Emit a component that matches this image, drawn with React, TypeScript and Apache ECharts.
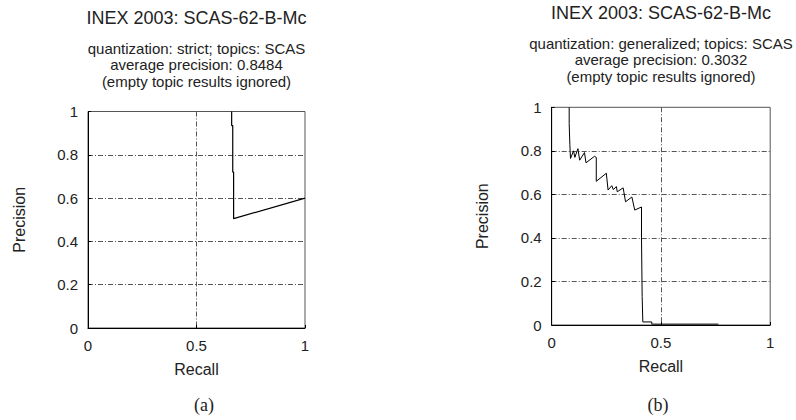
import React, { useEffect, useRef } from "react";
import * as echarts from "echarts";

// Panel (a): strict quantization
const strictRecall = [0.662, 0.662, 0.667, 0.667, 0.671, 0.671, 1.0];
const strictPrecision = [1.0, 0.935, 0.935, 0.72, 0.72, 0.505, 0.6];

// Panel (b): generalized quantization
const generalizedRecall = [
  0.080, 0.080, 0.083, 0.083, 0.086, 0.086,
  0.100, 0.106, 0.120, 0.128, 0.150, 0.157, 0.196, 0.204,
  0.204, 0.250, 0.258, 0.275, 0.282, 0.296, 0.300, 0.327, 0.338, 0.367, 0.380, 0.411,
  0.411, 0.414, 0.414, 0.417, 0.417, 0.458, 0.458, 0.763,
];
const generalizedPrecision = [
  1.0, 0.925, 0.925, 0.83, 0.83, 0.765,
  0.800, 0.770, 0.810, 0.757, 0.792, 0.745, 0.775, 0.770,
  0.660, 0.697, 0.620, 0.640, 0.622, 0.636, 0.612, 0.630, 0.566, 0.588, 0.528, 0.542,
  0.400, 0.400, 0.130, 0.130, 0.014, 0.014, 0.004, 0.004,
];

const plotTitle = "INEX 2003: SCAS-62-B-Mc";
const strictSubtitle = [
  "quantization: strict; topics: SCAS",
  "average precision: 0.8484",
  "(empty topic results ignored)",
];
const generalizedSubtitle = [
  "quantization: generalized; topics: SCAS",
  "average precision: 0.3032",
  "(empty topic results ignored)",
];
const captions = ["(a)", "(b)"];
const xName = "Recall";
const yName = "Precision";

const FONT = "Liberation Sans, Arial, Helvetica, sans-serif";
const TEXT = "#222";

const zip = (xs: number[], ys: number[]) => xs.map((x, i) => [x, ys[i]]);

const grids = [
  { left: 88, top: 111.5, width: 217, height: 216.5 },
  { left: 551.7, top: 107.3, width: 218.5, height: 217.7 },
];

const gridLine = { color: "#555", width: 1, type: [5, 2, 1, 2] as number[] };

function xAxis(i: number) {
  return {
    type: "value",
    gridIndex: i,
    min: 0,
    max: 1,
    interval: 0.5,
    name: xName,
    nameLocation: "middle",
    nameGap: 33,
    nameTextStyle: { fontFamily: FONT, fontSize: 16, color: TEXT },
    axisLine: { show: true, lineStyle: { color: "#000", width: 1 } },
    axisTick: { show: true, inside: true, length: 3, lineStyle: { color: "#000" } },
    axisLabel: { fontFamily: FONT, fontSize: 15, color: TEXT, margin: 10 },
    splitLine: { show: true, showMinLine: false, showMaxLine: false, lineStyle: gridLine },
  };
}

function yAxis(i: number) {
  return {
    type: "value",
    gridIndex: i,
    min: 0,
    max: 1,
    interval: 0.2,
    name: yName,
    nameLocation: "middle",
    nameGap: 61,
    nameTextStyle: { fontFamily: FONT, fontSize: 16, color: TEXT },
    axisLine: { show: true, lineStyle: { color: "#000", width: 1 } },
    axisTick: { show: true, inside: true, length: 3, lineStyle: { color: "#000" } },
    axisLabel: { fontFamily: FONT, fontSize: 15, color: TEXT, margin: 10 },
    splitLine: { show: true, showMinLine: false, showMaxLine: false, lineStyle: gridLine },
  };
}

function centeredText(text: string, x: number, y: number, fontSize: number, family = FONT) {
  return {
    type: "text",
    x,
    y,
    style: {
      text,
      align: "center",
      verticalAlign: "middle",
      fontFamily: family,
      fontSize,
      fill: TEXT,
    },
  };
}

export default function App() {
  const ref = useRef<HTMLDivElement>(null);

  useEffect(() => {
    if (!ref.current) return;
    const chart = echarts.init(ref.current, null, { renderer: "svg" });

    const centers = [196.5, 661];
    const titleY = [18, 13];
    const subY = [48, 43];
    const subs = [strictSubtitle, generalizedSubtitle];
    const graphics: any[] = [];
    centers.forEach((cx, i) => {
      graphics.push(centeredText(plotTitle, cx, titleY[i], 18));
      subs[i].forEach((line, j) => {
        graphics.push(centeredText(line, cx, subY[i] + j * 16.5, 15));
      });
    });
    graphics.push(centeredText(captions[0], 204, 405, 18, "Liberation Serif, Times New Roman, serif"));
    graphics.push(centeredText(captions[1], 658, 405, 18, "Liberation Serif, Times New Roman, serif"));

    chart.setOption({
      animation: false,
      backgroundColor: "#fff",
      grid: grids.map((g) => ({
        ...g,
        show: true,
        borderColor: "#555",
        borderWidth: 1,
        containLabel: false,
      })),
      xAxis: [xAxis(0), xAxis(1)],
      yAxis: [yAxis(0), yAxis(1)],
      series: [
        {
          type: "line",
          xAxisIndex: 0,
          yAxisIndex: 0,
          data: zip(strictRecall, strictPrecision),
          showSymbol: false,
          lineStyle: { color: "#000", width: 1.2 },
        },
        {
          type: "line",
          xAxisIndex: 1,
          yAxisIndex: 1,
          data: zip(generalizedRecall, generalizedPrecision),
          showSymbol: false,
          lineStyle: { color: "#000", width: 1 },
        },
      ],
      graphic: graphics,
    });

    return () => chart.dispose();
  }, []);

  return (
    <div
      ref={ref}
      style={{ position: "fixed", left: 0, top: 0, width: 796, height: 420, background: "#fff" }}
    />
  );
}
